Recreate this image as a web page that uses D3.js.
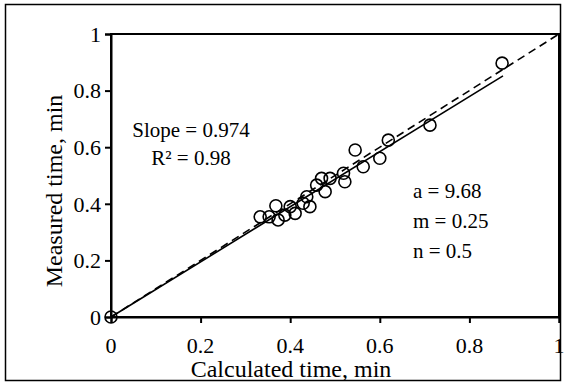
<!DOCTYPE html>
<html>
<head>
<meta charset="utf-8">
<script src="https://cdn.jsdelivr.net/npm/d3@7"></script>
<style>
  body { margin: 0; background: #fff; }
  svg text { font-family: "Liberation Serif", "Times New Roman", serif; }
</style>
</head>
<body>
<div id="chart"></div>
<script>
const width = 566;
const height = 385;

const margin = { top: 34, right: 7, bottom: 68, left: 111 },
    plotWidth = width - margin.left - margin.right,
    plotHeight = height - margin.top - margin.bottom;

// calculated vs measured time (min)
const calculated = [0, 0.333, 0.353, 0.368, 0.373, 0.388, 0.400, 0.411, 0.429, 0.437, 0.444,
    0.459, 0.470, 0.478, 0.489, 0.519, 0.522, 0.545, 0.563, 0.600, 0.619, 0.712, 0.873];
const measured = [0, 0.354, 0.354, 0.393, 0.343, 0.360, 0.390, 0.366, 0.402, 0.425, 0.390,
    0.466, 0.490, 0.443, 0.490, 0.508, 0.478, 0.590, 0.531, 0.561, 0.625, 0.678, 0.897];
const ticks = [0, 0.2, 0.4, 0.6, 0.8, 1];
const slope = 0.974;
const fitEnd = 0.875;
const fitText = ["Slope = 0.974", "R\u00b2 = 0.98"];
const paramText = ["a = 9.68", "m = 0.25", "n = 0.5"];

const points = calculated.map((c, i) => ({ x: c, y: measured[i] }));

const svg = d3.select("#chart").append("svg")
    .attr("width", width)
    .attr("height", height);

// outer frame
svg.append("rect")
    .attr("x", 5.5).attr("y", 4.5)
    .attr("width", width - 11).attr("height", height - 9)
    .attr("fill", "none")
    .attr("stroke", "#000")
    .attr("stroke-width", 1.5);

const g = svg.append("g")
    .attr("transform", `translate(${margin.left}, ${margin.top})`);

const x = d3.scaleLinear().domain([0, 1]).range([0, plotWidth]);
const y = d3.scaleLinear().domain([0, 1]).range([plotHeight, 0]);

// plot box
g.append("rect")
    .attr("width", plotWidth)
    .attr("height", plotHeight)
    .attr("fill", "none")
    .attr("stroke", "#000")
    .attr("stroke-width", 2);

// axes: lines + ticks only, labels drawn below in serif
const xAxis = g.append("g")
    .attr("transform", `translate(0, ${plotHeight})`)
    .call(d3.axisBottom(x).tickValues(ticks).tickFormat("").tickSize(6));

const yAxis = g.append("g")
    .call(d3.axisLeft(y).tickValues(ticks).tickFormat("").tickSize(6));

[xAxis, yAxis].forEach(ax => {
    ax.select(".domain").attr("stroke-width", 2);
    ax.selectAll(".tick line").attr("stroke-width", 2);
});

g.selectAll(".xlab")
    .data(ticks)
    .enter().append("text")
    .attr("class", "xlab")
    .attr("x", d => x(d))
    .attr("y", plotHeight + 36)
    .attr("text-anchor", "middle")
    .attr("font-size", "22px")
    .text(d => d);

g.selectAll(".ylab")
    .data(ticks)
    .enter().append("text")
    .attr("class", "ylab")
    .attr("x", -10)
    .attr("y", d => y(d))
    .attr("dy", "0.35em")
    .attr("text-anchor", "end")
    .attr("font-size", "22px")
    .text(d => d);

// 1:1 line
g.append("line")
    .attr("x1", x(0)).attr("y1", y(0))
    .attr("x2", x(1)).attr("y2", y(1))
    .attr("stroke", "#000")
    .attr("stroke-width", 1.6)
    .attr("stroke-dasharray", "8,5");

// fitted line
g.append("line")
    .attr("x1", x(0)).attr("y1", y(0))
    .attr("x2", x(fitEnd)).attr("y2", y(fitEnd * slope))
    .attr("stroke", "#000")
    .attr("stroke-width", 1.6);

g.selectAll("circle")
    .data(points)
    .enter().append("circle")
    .attr("cx", d => x(d.x))
    .attr("cy", d => y(d.y))
    .attr("r", 6)
    .attr("fill", "none")
    .attr("stroke", "#000")
    .attr("stroke-width", 1.6);

// X label
g.append("text")
    .attr("x", 180)
    .attr("y", plotHeight + 60)
    .attr("font-size", "24px")
    .attr("text-anchor", "middle")
    .text("Calculated time, min");

// Y label
g.append("text")
    .attr("x", -157)
    .attr("y", -49)
    .attr("font-size", "24px")
    .attr("text-anchor", "middle")
    .attr("transform", "rotate(-90)")
    .text("Measured time, min");

fitText.forEach((t, i) => {
    g.append("text")
        .attr("x", 80)
        .attr("y", 103 + i * 28)
        .attr("font-size", "21px")
        .attr("text-anchor", "middle")
        .text(t);
});

paramText.forEach((t, i) => {
    g.append("text")
        .attr("x", 302)
        .attr("y", 164 + i * 30)
        .attr("font-size", "21px")
        .text(t);
});
</script>
</body>
</html>
